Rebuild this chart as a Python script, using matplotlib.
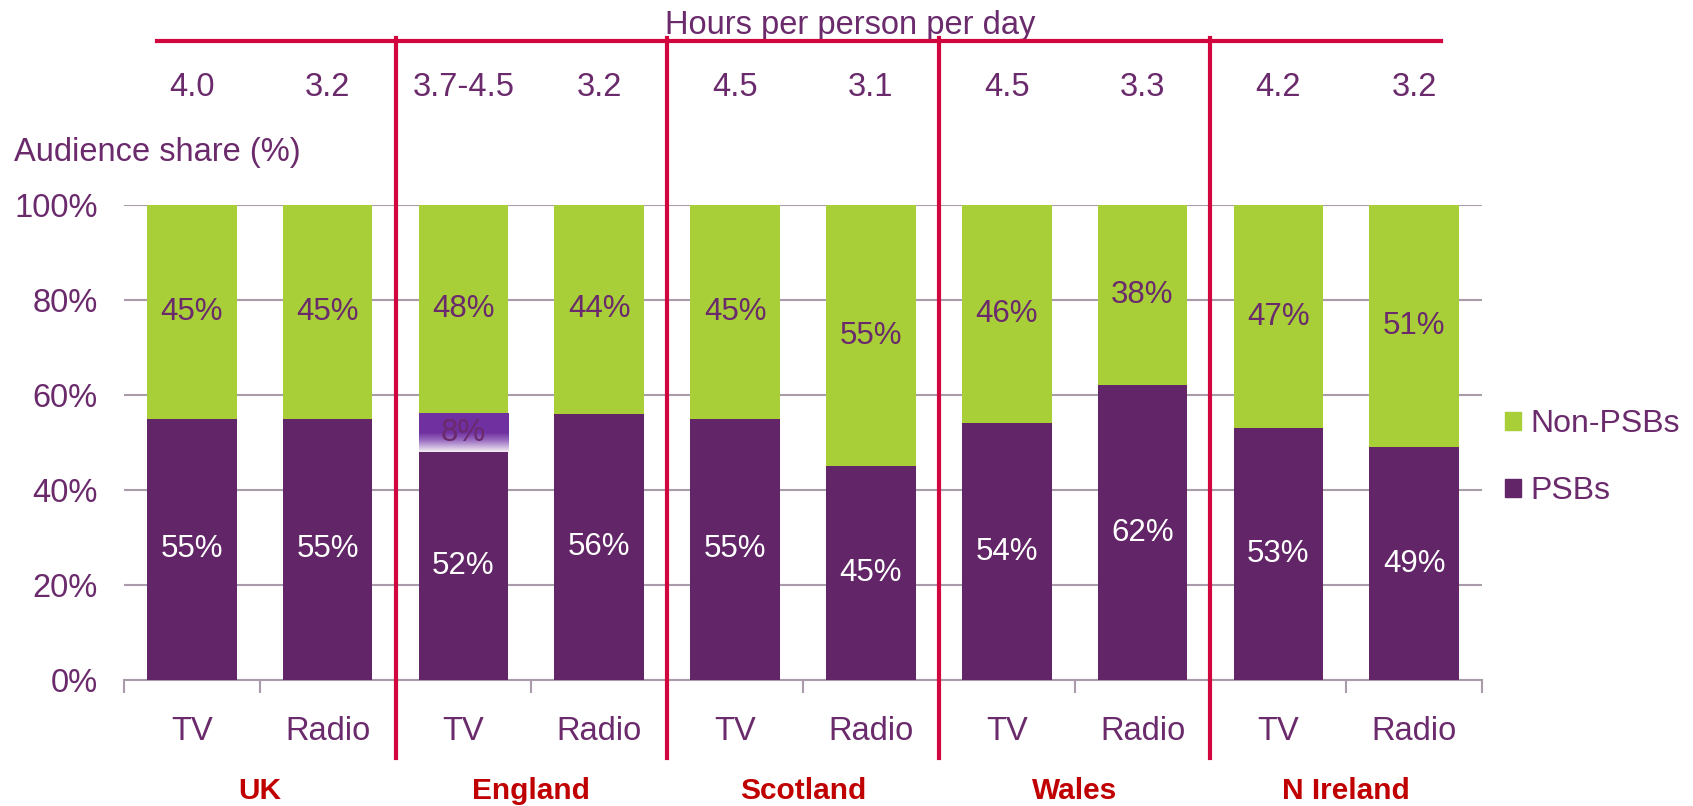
import numpy as np
import matplotlib
matplotlib.use("Agg")
import matplotlib.pyplot as plt
from matplotlib.patches import Patch
from matplotlib.colors import LinearSegmentedColormap
import matplotlib.transforms as mtransforms

plt.rcParams['font.family'] = ['Liberation Sans', 'DejaVu Sans']

# data
media = ["TV", "Radio", "TV", "Radio", "TV", "Radio", "TV", "Radio", "TV", "Radio"]
regions = ["UK", "England", "Scotland", "Wales", "N Ireland"]
hours = ["4.0", "3.2", "3.7-4.5", "3.2", "4.5", "3.1", "4.5", "3.3", "4.2", "3.2"]
psb = [55, 55, 52, 56, 55, 45, 54, 62, 53, 49]
non_psb = [45, 45, 48, 44, 45, 55, 46, 38, 47, 51]
# England TV PSB share is a range, shown as a shaded band
range_idx = 2
range_low = 48
range_high = 56
range_label = "8%"

GREEN = "#A8CE38"
PURPLE = "#622567"
TXT = "#6A2A6C"
RED = "#D2063F"
DARKRED = "#C00000"
GRID = "#A99BAA"

fig = plt.figure(figsize=(16.93, 8.06), dpi=100)
ax = fig.add_axes([0.0732, 0.1563, 0.8022, 0.5894])

x = np.arange(len(media))
w = 0.66
psb_top = np.array(psb, dtype=float)
green_bot = 100 - np.array(non_psb, dtype=float)
psb_top[range_idx] = range_low
green_bot[range_idx] = range_high

ax.bar(x, psb_top, width=w, color=PURPLE, zorder=3)
ax.bar(x, 100 - green_bot, bottom=green_bot, width=w, color=GREEN, zorder=3)

# gradient band for the range
cmap = LinearSegmentedColormap.from_list("band", [(0, "#F2EEF4"), (0.3, "#9A6CC0"), (0.5, "#7030A0"), (1, "#7030A0")])
grad = np.linspace(0, 1, 100).reshape(-1, 1)
ax.imshow(grad, cmap=cmap, origin="lower", aspect="auto",
          extent=[range_idx - w / 2, range_idx + w / 2, range_low, range_high], zorder=4)

for i in range(len(media)):
    ax.text(x[i], psb_top[i] / 2, f"{psb[i]}%", ha="center", va="center",
            color="white", fontsize=22.5, zorder=5)
    ax.text(x[i], (green_bot[i] + 100) / 2, f"{non_psb[i]}%", ha="center", va="center",
            color=TXT, fontsize=22.5, zorder=5)
ax.text(range_idx, (range_low + range_high) / 2, range_label, ha="center", va="center",
        color=TXT, fontsize=22.5, zorder=5)

ax.set_xlim(-0.5, len(media) - 0.5)
ax.set_ylim(0, 100)
ax.set_yticks([0, 20, 40, 60, 80, 100])
ax.set_yticklabels([f"{v}%" for v in [0, 20, 40, 60, 80, 100]], color=TXT, fontsize=23.5)
ax.tick_params(axis="y", length=0, pad=19)
ax.yaxis.grid(True, color=GRID, linewidth=1.5, zorder=0)
ax.set_axisbelow(True)

ax.set_xticks(np.arange(-0.5, len(media), 1.0))
ax.set_xticklabels([])
ax.tick_params(axis="x", length=9, width=1.5, color=GRID, direction="out")
for s in ["top", "left", "right"]:
    ax.spines[s].set_visible(False)
ax.spines["bottom"].set_color(GRID)
ax.spines["bottom"].set_linewidth(1.5)

trans = mtransforms.blended_transform_factory(ax.transData, ax.transAxes)
for i in range(len(media)):
    ax.text(x[i], -0.108, media[i], transform=trans, ha="center", va="center",
            color=TXT, fontsize=23.5, clip_on=False)
    ax.text(x[i], 1.248, hours[i], transform=trans, ha="center", va="center",
            color=TXT, fontsize=23.5, clip_on=False)
for j, r in enumerate(regions):
    ax.text(2 * j + 0.5, -0.234, r, transform=trans, ha="center", va="center",
            color=DARKRED, fontsize=21.5, fontweight="bold", clip_on=False)

# red separators
for b in [1.5, 3.5, 5.5, 7.5]:
    ax.plot([b, b], [-0.164, 1.352], transform=trans, color=RED, lw=3, clip_on=False, zorder=6)
ax.plot([-0.257, 9.2], [1.345, 1.345], transform=trans, color=RED, lw=3, clip_on=False, zorder=6)

ax.text(4.85, 1.378, "Hours per person per day", transform=trans, ha="center", va="center",
        color=TXT, fontsize=23.5, clip_on=False)
fig.text(0.0083, 1 - 152 / 806, "Audience share (%)", ha="left", va="center", color=TXT, fontsize=23.5)

handles = [Patch(color=GREEN, label="Non-PSBs"), Patch(color=PURPLE, label="PSBs")]
fig.legend(handles=handles, loc="center left", bbox_to_anchor=(0.872, 0.432), frameon=False,
           fontsize=23, labelcolor=TXT, handlelength=0.5, handleheight=0.5,
           handletextpad=0.3, labelspacing=1.15)

fig.savefig("out.png", dpi=100)
